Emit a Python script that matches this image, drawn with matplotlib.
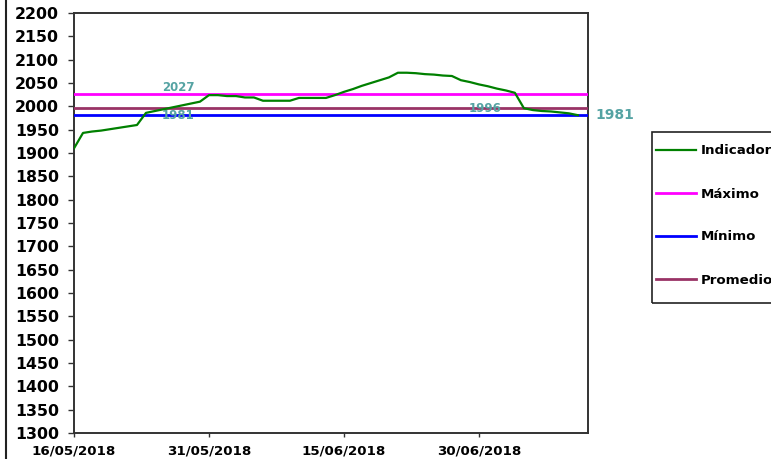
import matplotlib
matplotlib.use("Agg")
import matplotlib.pyplot as plt
import matplotlib.dates as mdates
from matplotlib.patches import Rectangle
from matplotlib.lines import Line2D
import pandas as pd

# daily indicator values, starting 16/05/2018
start_date = "2018-05-16"
indicador = [
    1910, 1943, 1946, 1948, 1951, 1954, 1957, 1960, 1986, 1990,
    1994, 1998, 2002, 2006, 2010, 2024, 2024, 2022, 2022, 2019,
    2019, 2012, 2012, 2012, 2012, 2018, 2018, 2018, 2018, 2024,
    2031, 2037, 2044, 2050, 2056, 2062, 2072, 2072, 2071, 2069,
    2068, 2066, 2065, 2056, 2052, 2047, 2043, 2038, 2034, 2029,
    1996, 1992, 1990, 1989, 1987, 1985, 1981,
]
maximo = 2027
minimo = 1981
promedio = 1996
ultimo = 1981

series_labels = ["Indicador", "Máximo", "Mínimo", "Promedio"]
xtick_dates = ["2018-05-16", "2018-05-31", "2018-06-15", "2018-06-30"]
x_end = "2018-07-12 03:00"
y_ticks = list(range(1300, 2201, 50))

dates = pd.date_range(start_date, periods=len(indicador), freq="D")

W, H = 771, 459
fig = plt.figure(figsize=(W / 100, H / 100), dpi=100)
ax = fig.add_axes([74 / W, 1 - 433 / H, (588 - 74) / W, (433 - 13) / H])

bold = dict(family="DejaVu Sans", weight="bold")
teal = "#55a3a3"

l_ind, = ax.plot(dates, indicador, color="#008000", lw=1.6, zorder=4)
l_max = ax.axhline(maximo, color="#ff00ff", lw=2, zorder=3)
l_min = ax.axhline(minimo, color="#0000ff", lw=2, zorder=3)
l_pro = ax.axhline(promedio, color="#993366", lw=2, zorder=3)

ax.set_xlim(pd.Timestamp(start_date), pd.Timestamp(x_end))
ax.set_ylim(1300, 2200)
ax.set_yticks(y_ticks)
ax.set_xticks(pd.to_datetime(xtick_dates))
ax.xaxis.set_major_formatter(mdates.DateFormatter("%d/%m/%Y"))

for lbl in ax.get_yticklabels():
    lbl.set_fontproperties(bold)
    lbl.set_fontsize(11.3)
for lbl in ax.get_xticklabels():
    lbl.set_fontproperties(bold)
    lbl.set_fontsize(9.6)

ax.tick_params(axis="y", direction="out", length=4.5, width=1, pad=6.5, color="#333333")
ax.tick_params(axis="x", direction="out", length=3, width=1, pad=5, color="#333333")
for s in ax.spines.values():
    s.set_color("#333333")
    s.set_linewidth(1.4)

# value labels
mid = pd.Timestamp(start_date) + pd.Timedelta(days=11.6)
ax.text(mid, maximo, f"{maximo}", color=teal, fontsize=8.5, weight="bold",
        ha="center", va="bottom")
ax.text(mid, minimo, f"{minimo}", color=teal, fontsize=8.5, weight="bold",
        ha="center", va="center")
ax.text(pd.Timestamp(start_date) + pd.Timedelta(days=45.7), promedio, f"{promedio}",
        color=teal, fontsize=8.5, weight="bold", ha="center", va="center")
ax.annotate(f"{ultimo}", xy=(1, ultimo), xycoords=("axes fraction", "data"),
            xytext=(5, 0), textcoords="offset points", color=teal,
            fontsize=10, weight="bold", ha="left", va="center")

# legend with a square frame that runs off the figure edge
leg = fig.legend([l_ind, l_max, l_min, l_pro], series_labels,
                 loc="center left", bbox_to_anchor=(656 / W, 1 - 215.5 / H),
                 frameon=False, prop=dict(family="DejaVu Sans", weight="bold", size=9.6),
                 handlelength=3.0, handletextpad=0.35, labelspacing=2.25,
                 borderpad=0, borderaxespad=0)
fig.patches.append(Rectangle((652 / W, 1 - 302.7 / H), 140 / W, 171 / H,
                             transform=fig.transFigure, fill=False,
                             edgecolor="#222222", lw=1.2))

# outer chart-area border on the left
fig.lines.append(Line2D([5.5 / W, 5.5 / W], [0, 1], transform=fig.transFigure,
                        color="#222222", lw=1.5))

fig.savefig("out.png", dpi=100)
